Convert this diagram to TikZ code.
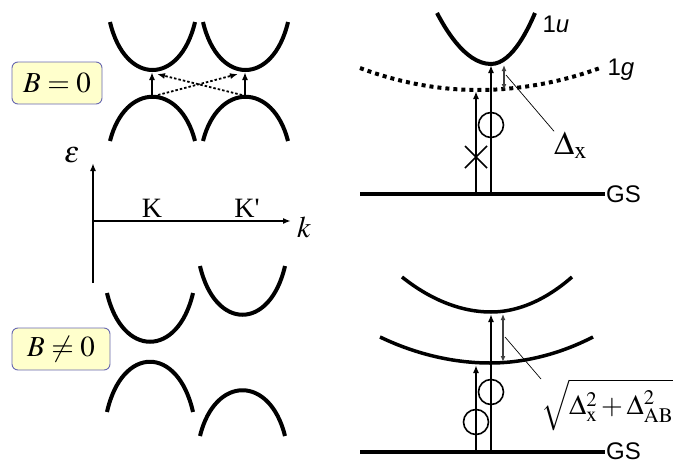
\documentclass[tikz,border=0pt]{standalone}
\usepackage{mathptmx}
\usepackage[no-math]{fontspec}
\setmainfont{Liberation Serif}
\newfontfamily\arialf{Liberation Sans}
\usetikzlibrary{arrows.meta}
\definecolor{boxyellow}{HTML}{FFFFCC}
\definecolor{boxblue}{HTML}{6868B0}
\begin{document}
\begin{tikzpicture}[x=1pt,y=-1pt,
  band/.style={line width=4pt},
  thinband/.style={line width=3.5pt},
  arr/.style={line width=1.8pt,-{Latex[length=8pt,width=6pt]}},
  dotarr/.style={line width=1.8pt,dash pattern=on 2.5pt off 2pt,-{Latex[length=8pt,width=6pt]}},
  axis/.style={line width=1.8pt,-{Latex[length=8pt,width=6pt]}},
  gap/.style={line width=1.2pt,draw=black!75,{Latex[length=6pt,width=5pt]}-{Latex[length=6pt,width=5pt]}},
  leader/.style={line width=0.7pt},
  ring/.style={line width=1.6pt},
  bbox/.style={draw=boxblue,fill=boxyellow,rounded corners=6pt,line width=0.9pt,
    minimum height=42pt,inner sep=0pt,font=\fontsize{29}{31}\selectfont},
  serif/.style={font=\fontsize{28}{30}\selectfont},
  sans/.style={font=\arialf\fontsize{24}{28}\selectfont}]
\useasboundingbox (0,0) rectangle (673,461);

% ---------- left top: B = 0 ----------
\node[bbox,minimum width=90pt] (b0) at (57,83) {$B=0$};
\draw[band] (110,22) .. controls (125,86) and (180,86) .. (195,22);
\draw[band] (203,22) .. controls (218,86) and (273,86) .. (288,22);
\draw[band] (110,141) .. controls (125,82) and (180,82) .. (195,141);
\draw[band] (203,141) .. controls (218,82) and (273,82) .. (288,141);
\coordinate (vK) at (152,97);  \coordinate (cK) at (152,72);
\coordinate (vKp) at (245,97); \coordinate (cKp) at (245,72);
\coordinate (dA) at (158,95); \coordinate (dAe) at (238,74);
\coordinate (dB) at (242,95); \coordinate (dBe) at (157,74);
\draw[arr] (vK) -- (cK);
\draw[arr] (vKp) -- (cKp);
\draw[dotarr] (dA) -- (dAe);
\draw[dotarr] (dB) -- (dBe);

% ---------- axes ----------
\coordinate (O) at (93,221);
\coordinate (ybot) at (93,283);
\coordinate (ytop) at (93,163);
\coordinate (xend) at (291,221);
\draw[axis] (ybot) -- (ytop);
\draw[axis] (O) -- (xend);
\node[font=\fontsize{30}{32}\selectfont] (eps) at (72,155) {$\varepsilon$};
\node[serif,anchor=base] (K) at (152,217) {K};
\node[serif,anchor=base] (Kp) at (247,217) {K\textquotesingle};
\node[font=\fontsize{30}{32}\selectfont,anchor=base] (kk) at (304,237) {$k$};

% ---------- left bottom: B != 0 ----------
\node[bbox,minimum width=98pt] (bn) at (61,349) {$B\neq 0$};
\draw[band] (107,293) .. controls (122,358) and (178,358) .. (193,293);
\draw[band] (200,266) .. controls (215,331) and (270,331) .. (285,266);
\draw[band] (107,412) .. controls (122,345) and (178,345) .. (193,412);
\draw[band] (200,436) .. controls (215,375) and (270,375) .. (285,436);

% ---------- right top ----------
\draw[band] (437,13) parabola bend (491,64) (535,13);
\draw[band,dash pattern=on 4pt off 4pt] (360,68) parabola bend (478,90) (600,68);
\draw[band] (360,194) -- (605,194);
\node[sans,anchor=base west] (u1) at (539,32) {1\textit{u}};
\node[sans,anchor=base west] (g1) at (604,75) {1\textit{g}};
\node[sans,anchor=west,inner sep=0pt] (gs1) at (606,194) {GS};
\coordinate (s1a) at (476,194); \coordinate (e1a) at (476,91);
\coordinate (s1b) at (491,194); \coordinate (e1b) at (491,65);
\draw[arr] (s1a) -- (e1a);
\draw[arr] (s1b) -- (e1b);
\coordinate (g1t) at (504,65); \coordinate (g1b) at (504,90);
\draw[gap] (g1t) -- (g1b);
\coordinate (l1s) at (506,75);
\node[font=\fontsize{33}{34}\selectfont,anchor=base west,inner sep=0pt] (dx) at (554,154) {$\Delta_{\mathrm{x}}$};
\draw[leader] (l1s) -- (dx.north west);
\draw[ring] (491,125) circle[radius=12.5pt];
% cross mark
\draw[ring] (465,146) -- (487,168);
\draw[ring] (465,168) -- (487,146);

% ---------- right bottom ----------
\draw[thinband] (402,277) parabola bend (491,312) (572,277);
\draw[thinband] (380,337) parabola bend (490,363) (593,337);
\draw[band] (360,452) -- (605,452);
\node[sans,anchor=west,inner sep=0pt] (gs2) at (606,451) {GS};
\coordinate (s2a) at (476,452); \coordinate (e2a) at (476,365);
\coordinate (s2b) at (491,452); \coordinate (e2b) at (491,314);
\draw[arr] (s2a) -- (e2a);
\draw[arr] (s2b) -- (e2b);
\coordinate (g2t) at (503,314); \coordinate (g2b) at (503,362);
\draw[gap] (g2t) -- (g2b);
\coordinate (l2s) at (505,337);
\node[font=\fontsize{28}{30}\selectfont,anchor=north west,inner sep=0pt] (sq) at (541,379) {$\sqrt{\Delta_{\mathrm{x}}^2+\Delta_{\mathrm{AB}}^2}$};
\draw[leader] (l2s) -- (sq.north west);
\draw[ring] (491,392) circle[radius=12.5pt];
\draw[ring] (476,422) circle[radius=12.5pt];
\end{tikzpicture}
\end{document}
